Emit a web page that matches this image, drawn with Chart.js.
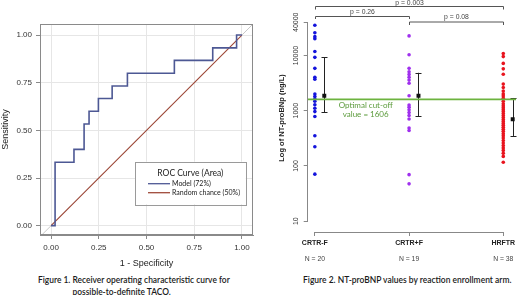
<!DOCTYPE html>
<html><head><meta charset="utf-8">
<script src="https://cdn.jsdelivr.net/npm/chart.js@4.4.1/dist/chart.umd.min.js"></script>
<style>
html,body{margin:0;padding:0;background:#fff;width:520px;height:295px;overflow:hidden;position:relative;}
#c1{position:absolute;left:0;top:0;}
#c2{position:absolute;left:260px;top:0;}
.cap{position:absolute;font-family:Lato,'Open Sans',sans-serif;font-size:10px;line-height:12px;color:#1a1a1a;font-weight:600;white-space:nowrap;transform-origin:center center;}
</style></head><body>
<canvas id="c1" width="260" height="270"></canvas>
<canvas id="c2" width="260" height="270"></canvas>
<div class="cap" id="cap1a">Figure 1. Receiver operating characteristic curve for</div>
<div class="cap" id="cap1b">possible-to-definite TACO.</div>
<div class="cap" id="cap2">Figure 2. NT-proBNP values by reaction enrollment arm.</div>
<script>
// ---------- Figure 1 data ----------
const rocFpr = [0, 0.021, 0.12, 0.173, 0.199, 0.248, 0.32, 0.40, 0.646, 0.847, 0.972, 1.0];
const rocTpr = [0, 0.333, 0.40, 0.533, 0.60, 0.667, 0.733, 0.80, 0.867, 0.933, 1.0, 1.0];
const chanceFpr = [0, 1];
const chanceTpr = [0, 1];
const rocTicks = [0, 0.25, 0.5, 0.75, 1.0];
const legendTitle = 'ROC Curve (Area)';
const legendLabels = ['Model (72%)', 'Random chance (50%)'];

// ---------- Figure 2 data ----------
const arms = ['CRTR-F', 'CRTR+F', 'HRFTR'];
const armN = [20, 19, 38];
const crtrMinusF = [35200, 25800, 21900, 20100, 11800, 9250, 5850, 4040, 3730, 2000, 1800, 1630, 1480, 1285, 1110, 964, 785, 353, 222, 71];
const crtrPlusF = [22600, 10300, 5850, 5070, 4540, 4040, 3580, 3140, 1870, 1270, 1160, 1040, 925, 818, 709, 484, 439, 69.5, 47.4];
const hrftr = [10810, 9550, 7180, 5730, 4570, 3035, 2630, 2280, 2015, 1856, 1675, 1482, 1338, 1233, 1135, 1046, 964, 888, 818, 754, 695, 640, 589, 543, 500, 461, 425, 384, 353, 319, 288, 260, 234, 212, 191, 169, 149, 117];
const armMean = [1870, 1870, 700];
const armLow = [944, 792, 349];
const armHigh = [9250, 4860, 1700];
const cutoff = 1606;
const cutoffText = ['Optimal cut-off', 'value = 1606'];
const bnpTicks = [10, 100, 1000, 10000, 40000];
const pValues = ['p = 0.26', 'p = 0.08', 'p = 0.003'];

// ---------- Figure 1 ----------
const MODEL_C = '#4d5894', CHANCE_C = '#a04a3a', FRAME_C = '#8a8a8a';
const rocDeco = {
  id: 'rocDeco',
  afterDraw(chart) {
    const {ctx, chartArea: ca} = chart;
    ctx.save();
    ctx.strokeStyle = FRAME_C; ctx.lineWidth = 1;
    ctx.strokeRect(Math.round(ca.left) + 0.5, Math.round(ca.top) + 0.5, Math.round(ca.right - ca.left) - 1, Math.round(ca.bottom - ca.top) - 1);
    // legend box
    const bw = 110.7, bh = 42.6;
    const bx = ca.right - 7.3 - bw, by = ca.bottom - 30.7 - bh;
    ctx.fillStyle = '#fff'; ctx.fillRect(bx, by, bw, bh);
    ctx.strokeStyle = '#9a9a9a'; ctx.strokeRect(Math.round(bx) + 0.5, Math.round(by) + 0.5, Math.round(bw), Math.round(bh));
    ctx.fillStyle = '#222'; ctx.textAlign = 'center'; ctx.textBaseline = 'middle';
    ctx.font = '8.5px Lato, sans-serif';
    ctx.fillText(legendTitle, bx + bw / 2, by + 11.3);
    ctx.font = '7px Lato, sans-serif'; ctx.textAlign = 'left';
    const cols = [MODEL_C, CHANCE_C];
    legendLabels.forEach((t, i) => {
      const y = by + 22 + i * 9;
      ctx.strokeStyle = cols[i]; ctx.lineWidth = 1.3;
      ctx.beginPath(); ctx.moveTo(bx + 13, y); ctx.lineTo(bx + 35, y); ctx.stroke();
      ctx.fillStyle = '#222'; ctx.fillText(t, bx + 37, y + 0.5);
    });
    ctx.restore();
  }
};

new Chart(document.getElementById('c1'), {
  type: 'scatter',
  data: {
    datasets: [
      { data: rocFpr.map((x, i) => ({x, y: rocTpr[i]})), showLine: true, stepped: 'before', borderColor: MODEL_C, borderWidth: 1.6, pointRadius: 0, fill: false },
      { data: chanceFpr.map((x, i) => ({x, y: chanceTpr[i]})), showLine: true, borderColor: CHANCE_C, borderWidth: 1.1, pointRadius: 0, fill: false },
      { data: [{x: -0.1, y: -0.1}, {x: 1.1, y: 1.1}], showLine: true, borderColor: '#c8c8c8', borderWidth: 1, pointRadius: 0, fill: false }
    ]
  },
  options: {
    responsive: false, animation: false, devicePixelRatio: 1,
    layout: { padding: { top: 24, right: 7, left: 0, bottom: 0 } },
    plugins: { legend: { display: false }, tooltip: { enabled: false } },
    scales: {
      x: {
        type: 'linear', min: -0.058, max: 1.058,
        afterBuildTicks: s => { s.ticks = rocTicks.map(v => ({value: v})); },
        afterFit: s => { s.height = 35; },
        ticks: { callback: v => Number(v).toFixed(2), font: { size: 8, family: 'Liberation Sans, Arial, sans-serif' }, color: '#333', padding: 4, maxRotation: 0 },
        grid: { color: '#e6e6e6', tickColor: FRAME_C, tickLength: 4 },
        border: { color: FRAME_C },
        title: { display: true, text: '1 - Specificity', font: { size: 9, family: 'Liberation Sans, Arial, sans-serif' }, color: '#222', padding: { top: 0, bottom: 1.5 } }
      },
      y: {
        type: 'linear', min: -0.049, max: 1.058,
        afterBuildTicks: s => { s.ticks = rocTicks.map(v => ({value: v})); },
        afterFit: s => { s.width = 40; },
        ticks: { callback: v => Number(v).toFixed(2), font: { size: 8, family: 'Liberation Sans, Arial, sans-serif' }, color: '#333', padding: 4 },
        grid: { color: '#e6e6e6', tickColor: FRAME_C, tickLength: 4 },
        border: { color: FRAME_C },
        title: { display: true, text: 'Sensitivity', font: { size: 9, family: 'Liberation Sans, Arial, sans-serif' }, color: '#222', padding: { top: 0, bottom: 0 } }
      }
    }
  },
  plugins: [rocDeco]
});

// ---------- Figure 2 ----------
const X_MIN = 0.924, X_MAX = 3.135, MEAN_SHIFT = 0.1;
const GREEN = '#6db33f';
const bnpDeco = {
  id: 'bnpDeco',
  beforeDatasetsDraw(chart) {
    const {ctx} = chart; const xs = chart.scales.x, ys = chart.scales.y;
    ctx.save();
    ctx.strokeStyle = '#222'; ctx.lineWidth = 1;
    arms.forEach((a, i) => {
      const px = Math.round(xs.getPixelForValue(i + 1 + MEAN_SHIFT)) + 0.5;
      const yl = ys.getPixelForValue(armLow[i]), yh = ys.getPixelForValue(armHigh[i]);
      ctx.beginPath();
      ctx.moveTo(px, yl); ctx.lineTo(px, yh);
      ctx.moveTo(px - 3, Math.round(yl) + 0.5); ctx.lineTo(px + 3, Math.round(yl) + 0.5);
      ctx.moveTo(px - 3, Math.round(yh) + 0.5); ctx.lineTo(px + 3, Math.round(yh) + 0.5);
      ctx.stroke();
    });
    ctx.restore();
  },
  afterDraw(chart) {
    const {ctx, chartArea: ca} = chart; const xs = chart.scales.x, ys = chart.scales.y;
    ctx.save();
    ctx.strokeStyle = '#888'; ctx.lineWidth = 1;
    // y axis line (tick range only)
    const ax = Math.round(ca.left) - 0.5;
    ctx.beginPath();
    ctx.moveTo(ax, ys.getPixelForValue(bnpTicks[0])); ctx.lineTo(ax, ys.getPixelForValue(bnpTicks[bnpTicks.length - 1]));
    ctx.stroke();
    // x axis line (category range only)
    const ay = Math.round(ca.bottom) + 0.5;
    ctx.beginPath();
    ctx.moveTo(xs.getPixelForValue(1), ay); ctx.lineTo(xs.getPixelForValue(arms.length), ay);
    ctx.stroke();
    // y tick labels, rotated
    ctx.fillStyle = '#333'; ctx.font = '7px Liberation Sans, Arial, sans-serif';
    ctx.textAlign = 'center'; ctx.textBaseline = 'middle';
    bnpTicks.forEach(v => {
      ctx.save(); ctx.translate(ca.left - 11.5, ys.getPixelForValue(v)); ctx.rotate(-Math.PI / 2);
      ctx.fillText(String(v), 0, 0); ctx.restore();
    });
    // N labels
    ctx.font = '6.8px Liberation Sans, Arial, sans-serif'; ctx.fillStyle = '#444';
    arms.forEach((a, i) => ctx.fillText('N = ' + armN[i], xs.getPixelForValue(i + 1), 259));
    // brackets
    ctx.strokeStyle = '#555'; ctx.lineWidth = 1;
    const br = [[1, 2, 16.5, 19, 12.3], [2, 3, 22, 25, 16.7], [1, 3, 6.5, 9.5, 2.8]];
    br.forEach((b, i) => {
      const x1 = Math.round(xs.getPixelForValue(b[0])) + 0.5, x2 = Math.round(xs.getPixelForValue(b[1])) + 0.5;
      ctx.beginPath();
      ctx.moveTo(x1, b[3]); ctx.lineTo(x1, b[2]); ctx.lineTo(x2, b[2]); ctx.lineTo(x2, b[3]);
      ctx.stroke();
      ctx.fillStyle = '#444'; ctx.font = '6.8px Liberation Sans, Arial, sans-serif';
      ctx.fillText(pValues[i], (x1 + x2) / 2, b[4]);
    });
    // cut-off text
    ctx.fillStyle = '#5a9a3a'; ctx.font = '8px Lato, sans-serif';
    const ty = ys.getPixelForValue(cutoff);
    ctx.fillText(cutoffText[0], ca.left + 58, ty + 5.8);
    ctx.fillText(cutoffText[1], ca.left + 58, ty + 15.2);
    ctx.restore();
  }
};

const dot = (vals, i) => vals.map(v => ({x: i + 1, y: v}));
new Chart(document.getElementById('c2'), {
  type: 'scatter',
  data: {
    datasets: [
      { data: arms.map((a, i) => ({x: i + 1 + MEAN_SHIFT, y: armMean[i]})), pointStyle: 'rect', pointRadius: 2.8, backgroundColor: '#111', borderWidth: 0 },
      { data: [{x: X_MIN, y: cutoff}, {x: X_MAX, y: cutoff}], showLine: true, borderColor: GREEN, borderWidth: 1.6, pointRadius: 0 },
      { data: dot(crtrMinusF, 0), pointRadius: 1.8, backgroundColor: '#1414dc', borderWidth: 0 },
      { data: dot(crtrPlusF, 1), pointRadius: 1.8, backgroundColor: '#a030ee', borderWidth: 0 },
      { data: dot(hrftr, 2), pointRadius: 1.8, backgroundColor: '#e8141e', borderWidth: 0 }
    ]
  },
  options: {
    responsive: false, animation: false, devicePixelRatio: 1,
    layout: { padding: 0 },
    plugins: { legend: { display: false }, tooltip: { enabled: false } },
    scales: {
      x: {
        type: 'linear', min: X_MIN, max: X_MAX,
        afterBuildTicks: s => { s.ticks = arms.map((a, i) => ({value: i + 1})); },
        afterFit: s => { s.height = 38; },
        ticks: { callback: (v, idx) => arms[idx], font: { size: 7, weight: 'bold', family: 'Liberation Sans, Arial, sans-serif' }, color: '#222', padding: 3, maxRotation: 0 },
        grid: { drawOnChartArea: false, tickColor: '#888', tickLength: 4 },
        border: { display: false }
      },
      y: {
        type: 'logarithmic', min: 6.37, max: 85500,
        afterBuildTicks: s => { s.ticks = bnpTicks.map(v => ({value: v})); },
        afterFit: s => { s.width = 47.7; },
        ticks: { display: false },
        grid: { drawOnChartArea: false, tickColor: '#888', tickLength: 4 },
        border: { display: false },
        title: { display: true, text: 'Log of NT-proBNp (ng/L)', font: { size: 7.5, weight: 'bold', family: 'Liberation Sans, Arial, sans-serif' }, color: '#222', padding: { top: 17.2, bottom: 0 } }
      }
    }
  },
  plugins: [bnpDeco]
});

// ---------- captions ----------
function placeCap(id, cx, cy, targetW) {
  const el = document.getElementById(id);
  const w = el.offsetWidth, h = el.offsetHeight;
  el.style.left = (cx - w / 2) + 'px';
  el.style.top = (cy - h / 2) + 'px';
  el.style.transform = 'scaleX(' + (targetW / w) + ')';
}
placeCap('cap1a', 134, 279, 192);
placeCap('cap1b', 121, 291, 98);
placeCap('cap2', 407, 279, 208);
</script>
</body></html>
